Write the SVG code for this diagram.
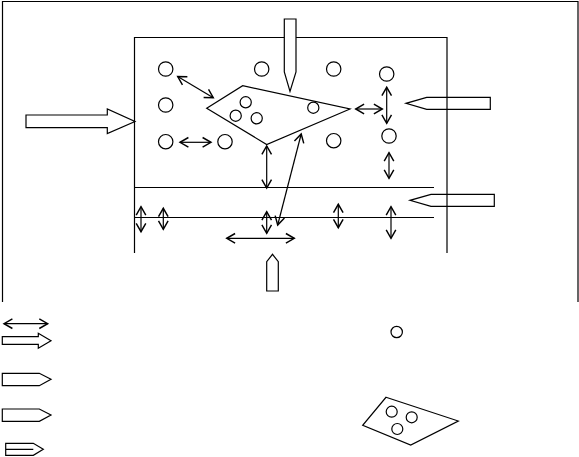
<svg xmlns="http://www.w3.org/2000/svg" width="579" height="457" viewBox="0 0 579 457">
<style>
.s{fill:none;stroke:#000;stroke-width:1.2}
.w{fill:#fff;stroke:#000;stroke-width:1.2}
.a{fill:none;stroke:#000;stroke-width:1.2;marker-start:url(#v);marker-end:url(#v)}
</style>
<defs>
<marker id="v" markerUnits="userSpaceOnUse" markerWidth="12" markerHeight="12" refX="8" refY="5" orient="auto-start-reverse" viewBox="0 0 10 10">
<path d="M1,1 L8,5 L1,9" fill="none" stroke="#000" stroke-width="1.2"/>
</marker>
</defs>
<rect width="579" height="457" fill="#fff"/>
<g id="frame">
<path class="s" d="M2.5,302 V1.5 H578 V302"/>
<path class="s" d="M134.5,253 V37.5 H447 V253"/>
<path class="s" d="M134.5,187.5 H434 M134.5,217.5 H434"/>
</g>
<g id="flow-top"><path class="w" d="M284.3,19 H296 V72 L290,91.5 L284.3,72 Z"/></g>
<g id="flow-left"><path class="s" d="M26,115 H107.3 V109 L135,121.5 L107.3,133.5 V127.7 H26 Z"/></g>
<g id="flow-right-1"><path class="s" d="M490.3,97.3 H426.7 L406,103.3 L426.7,109.3 H490.3 Z"/></g>
<g id="flow-right-2"><path class="s" d="M494.3,194.3 H431 L410,200.3 L431,206.3 H494.3 Z"/></g>
<g id="flow-bottom"><path class="s" d="M266.7,291 V261.7 L272.5,254.3 L278.3,261.7 V291 Z"/></g>
<g id="particles">
<circle class="s" cx="165.7" cy="69" r="7.2"/>
<circle class="s" cx="165.7" cy="105" r="7.2"/>
<circle class="s" cx="165.7" cy="141.7" r="7.2"/>
<circle class="s" cx="225" cy="141.7" r="7.2"/>
<circle class="s" cx="261.7" cy="69" r="7.2"/>
<circle class="s" cx="333.7" cy="69" r="7.2"/>
<circle class="s" cx="386.7" cy="74" r="7.2"/>
<circle class="s" cx="389" cy="136" r="7.2"/>
<circle class="s" cx="333.7" cy="140.7" r="7.2"/>
</g>
<g id="floc">
<path class="s" d="M206.7,108.3 L242.7,85.7 L350,109 L266.7,144.5 Z"/>
<circle class="s" cx="245.7" cy="102.3" r="5.6"/>
<circle class="s" cx="235.7" cy="115.7" r="5.6"/>
<circle class="s" cx="256.7" cy="118.3" r="5.6"/>
<circle class="s" cx="313.3" cy="107.7" r="5.6"/>
</g>
<g id="connectors">
<line class="a" x1="177.7" y1="76.5" x2="213.3" y2="97.7"/>
<line class="a" x1="180" y1="142.3" x2="211" y2="142.3"/>
<line class="a" x1="355.7" y1="109" x2="382.3" y2="109"/>
<line class="a" x1="386.7" y1="87.3" x2="386.7" y2="123.3"/>
<line class="a" x1="389" y1="152.7" x2="389" y2="178.3"/>
<line class="a" x1="266.7" y1="146" x2="266.7" y2="188"/>
<line class="a" x1="301.2" y1="134" x2="277.7" y2="225"/>
<line class="a" x1="266.7" y1="211.7" x2="266.7" y2="233.3"/>
<line class="a" x1="226.7" y1="238.3" x2="294.3" y2="238.3"/>
<line class="a" x1="141" y1="206.7" x2="141" y2="231.7"/>
<line class="a" x1="163.3" y1="208.3" x2="163.3" y2="229.3" stroke-width="1.8"/>
<line class="a" x1="338.3" y1="204.3" x2="338.3" y2="227.7"/>
<line class="a" x1="391" y1="206.7" x2="391" y2="238.3"/>
</g>
<g id="legend-arrow"><line class="a" x1="4" y1="323.7" x2="47.7" y2="323.7"/></g>
<g id="legend-flow-1"><path class="s" d="M2.3,336.7 H38.3 V333.3 L51,340.7 L38.3,348.3 V344.3 H2.3 Z"/></g>
<g id="legend-flow-2"><path class="s" d="M2.3,373.3 H39.3 L51,379.3 L39.3,385.7 H2.3 Z"/></g>
<g id="legend-flow-3"><path class="s" d="M2.3,409 H39.3 L51,415 L39.3,421.3 H2.3 Z"/></g>
<g id="legend-flow-4"><path class="s" d="M5.7,443.3 H33.3 L43.3,449.3 L33.3,455.3 H5.7 Z M5.7,449.3 H33.3"/></g>
<g id="legend-particle"><circle class="s" cx="396.7" cy="332" r="5.7"/></g>
<g id="legend-floc">
<path class="s" d="M386,397.3 L458.3,421 L410.7,445 L362.7,425.3 Z"/>
<circle class="s" cx="391.7" cy="411.7" r="5.5"/>
<circle class="s" cx="411.7" cy="417.3" r="5.5"/>
<circle class="s" cx="397.3" cy="429" r="5.5"/>
</g>
</svg>
